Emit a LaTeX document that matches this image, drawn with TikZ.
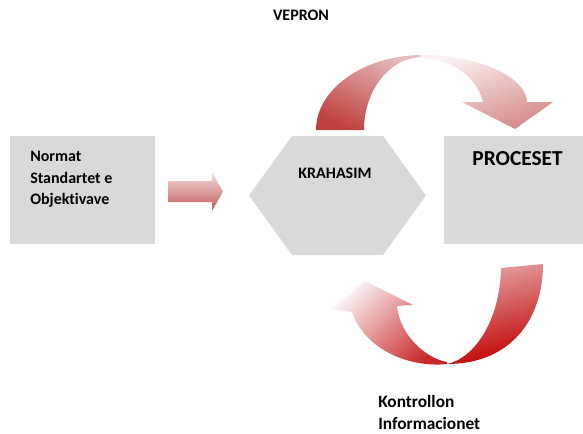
\documentclass[tikz,border=0pt]{standalone}
\usepackage{fontspec}
\setmainfont{Carlito}[Ligatures=NoCommon]
\usepackage{tikz}
\usetikzlibrary{positioning}
\definecolor{boxgray}{HTML}{D9D9D9}
\definecolor{arred}{HTML}{C00000}
\definecolor{arrose}{HTML}{C0504D}
\definecolor{arpink}{HTML}{F4DEDE}
\definecolor{arpale}{HTML}{FBF1F1}
\definecolor{arblush}{HTML}{E3BCBC}
\definecolor{arsalmon}{HTML}{D58A8A}
\definecolor{arcoral}{HTML}{E4A3A3}
\definecolor{arbrick}{HTML}{C4595A}
\definecolor{arcrim}{HTML}{C82828}

\begin{document}
\begin{tikzpicture}[x=0.75pt,y=-0.75pt,
  box/.style={rectangle,fill=boxgray,inner sep=0pt,anchor=north west,minimum height=81pt},
  lbl/.style={inner sep=0pt,align=left,font=\fontsize{12}{16.1}\selectfont\bfseries}]
  \useasboundingbox (0,0) rectangle (583,433);
  \node[box,minimum width=108.75pt] (norm) at (10,136) {};
  \node[box,minimum width=104.25pt] (proc) at (444,136) {};
  \fill[boxgray] (249,195.5) -- (292,136) -- (383,136) -- (426,195.5) -- (383,255) -- (292,255) -- cycle;
  \node[lbl,anchor=base] (vep) at (301,20) {VEPRON};
  \node[lbl,anchor=north west] (normtxt) at (30,151) {Normat\\Standartet e\\Objektivave};
  \node[lbl,anchor=base] (krah) at (335,178) {KRAHASIM};
  \node[lbl,anchor=base,font=\fontsize{16}{19}\selectfont\bfseries] (proctxt) at (517.5,165.5) {PROCESET};
  \node[lbl,anchor=north west,font=\fontsize{13}{16.5}\selectfont\bfseries] (kont) at (378,395) {Kontrollon\\Informacionet};
  % block arrow
  \shade[top color=arpink,bottom color=arbrick] (168,181) -- (212,181) -- (212,172) -- (223,191.5)
    -- (212,211) -- (212,202) -- (168,202) -- cycle;
  % top arrow
  \shade[top color=arblush,bottom color=arrose!80!arred,shading angle=-25]
    (316,130) .. controls (316,89) and (364,55) .. (423,55)
    -- (423,57) .. controls (390,57) and (364,90) .. (364,130) -- cycle;
  \shade[top color=arpale,bottom color=arsalmon,shading angle=20]
    (420,55) .. controls (485,55) and (527,80) .. (527,102) -- (553,102) -- (515,129) -- (462,102)
    -- (483,102) .. controls (477,78) and (455,60) .. (420,58) -- cycle;
  % bottom arrow
  \shade[top color=arcoral,bottom color=arred,shading angle=15]
    (501,268) -- (543,264) .. controls (543,320) and (510,364) .. (447,364)
    .. controls (475,358) and (500,320) .. (501,268) -- cycle;
  \shade[top color=arpale,bottom color=arcrim,shading angle=45]
    (447,364) .. controls (410,368) and (365,350) .. (352,312) -- (332,309) -- (365,281) -- (413,305)
    -- (397,306) .. controls (400,335) and (425,358) .. (447,362) -- cycle;
\end{tikzpicture}
\end{document}
